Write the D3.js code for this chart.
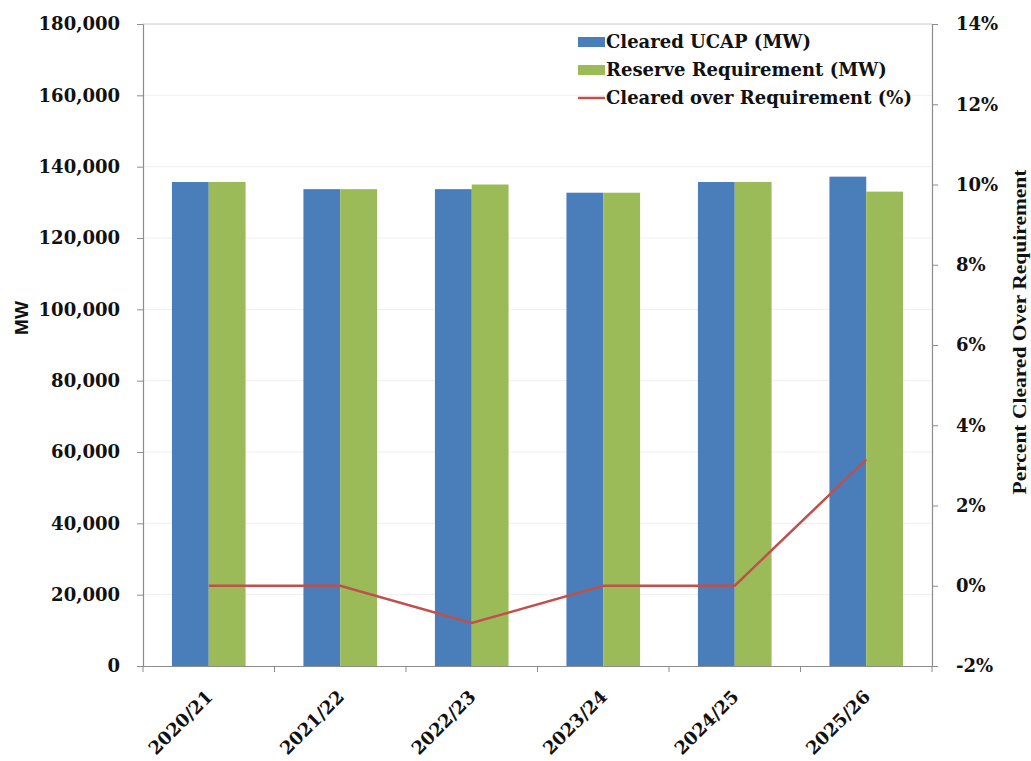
<!DOCTYPE html>
<html><head><meta charset="utf-8">
<script src="https://cdn.jsdelivr.net/npm/d3@7"></script>
<style>body{margin:0;background:#fff;} svg{display:block;}</style>
</head><body>
<script>
const categories = ["2020/21","2021/22","2022/23","2023/24","2024/25","2025/26"];
const clearedUCAP = [135700, 133700, 133700, 132700, 135700, 137200];
const reserveReq  = [135700, 133700, 135000, 132700, 135700, 133000];
const clearedOverPct = [0.0, 0.0, -0.93, 0.0, 0.0, 3.15];
const leftTicks = [0,20000,40000,60000,80000,100000,120000,140000,160000,180000];
const rightTicks = [-2,0,2,4,6,8,10,12,14];
const seriesNames = ["Cleared UCAP (MW)","Reserve Requirement (MW)","Cleared over Requirement (%)"];

const W=1031,H=761;
const m={left:143,right:99,top:24,bottom:95};
const svg=d3.select("body").append("svg").attr("width",W).attr("height",H);
const iw=W-m.left-m.right, ih=H-m.top-m.bottom;
const g=svg.append("g").attr("transform",`translate(${m.left},${m.top})`);

const x=d3.scaleBand().domain(categories).range([0,iw]).paddingInner(0.44).paddingOuter(0.22);
const y=d3.scaleLinear().domain([0,180000]).range([ih,0]);
const y2=d3.scaleLinear().domain([-2,14]).range([ih,0]);
const step=x.step();
const bw=x.bandwidth()/2;

const serif='"DejaVu Serif", serif';
const blue="#4a7ebb", green="#9bbb59", red="#c0504d", axisCol="#8c8c8c";

// gridlines
g.append("g").selectAll("line").data(leftTicks.slice(1)).join("line")
 .attr("x1",0).attr("x2",iw).attr("y1",d=>y(d)).attr("y2",d=>y(d))
 .attr("stroke","#efefef").attr("stroke-width",1);

// bars
const cg=g.append("g").selectAll("g").data(categories).join("g")
 .attr("transform",d=>`translate(${x(d)},0)`);
cg.append("rect").attr("x",0).attr("width",bw)
 .attr("y",(d,i)=>y(clearedUCAP[i])).attr("height",(d,i)=>ih-y(clearedUCAP[i])).attr("fill",blue);
cg.append("rect").attr("x",bw).attr("width",bw)
 .attr("y",(d,i)=>y(reserveReq[i])).attr("height",(d,i)=>ih-y(reserveReq[i])).attr("fill",green);

// line
const line=d3.line().x((d,i)=>x(categories[i])+x.bandwidth()/2).y(d=>y2(d));
g.append("path").datum(clearedOverPct).attr("d",line).attr("fill","none")
 .attr("stroke",red).attr("stroke-width",2.5);

// axes
const la=g.append("g").call(d3.axisLeft(y).tickValues(leftTicks).tickFormat(d3.format(",")).tickSize(6).tickPadding(17));
const ra=g.append("g").attr("transform",`translate(${iw},0)`).call(d3.axisRight(y2).tickValues(rightTicks).tickFormat(d=>d+"%").tickSize(6).tickPadding(18));
const xa=g.append("g").attr("transform",`translate(0,${ih})`).call(d3.axisBottom(x).tickSize(0).tickPadding(0));
[la,ra,xa].forEach(a=>{a.select(".domain").attr("stroke",axisCol).attr("stroke-width",1.2);
 a.selectAll(".tick line").attr("stroke",axisCol);
 a.selectAll("text").attr("font-family",serif).attr("font-weight","bold").attr("font-size",18).attr("fill","#111");});
// x ticks at category boundaries
const x0=x(categories[0]) - step*x.paddingOuter();
g.append("g").selectAll("line").data(d3.range(categories.length+1)).join("line")
 .attr("x1",d=>x0+d*step).attr("x2",d=>x0+d*step)
 .attr("y1",ih).attr("y2",ih+6).attr("stroke",axisCol);
xa.selectAll(".tick text").attr("text-anchor","end").attr("font-size",18)
 .attr("y",0).attr("dy",0).attr("transform","translate(5,32) rotate(-45)");
// top border
g.append("line").attr("x1",0).attr("x2",iw).attr("y1",0).attr("y2",0).attr("stroke","#d0d0d0");

// axis titles
svg.append("text").attr("transform",`translate(28,318) rotate(-90)`).attr("text-anchor","middle")
 .attr("font-family",'"Liberation Sans", Arial, sans-serif').attr("font-weight","bold").attr("font-size",19).attr("fill","#111").text("MW");
svg.append("text").attr("transform",`translate(1026,332) rotate(-90)`).attr("text-anchor","middle")
 .attr("font-family",'"Liberation Serif", serif').attr("font-weight","bold").attr("font-size",19).attr("fill","#111")
 .attr("textLength",325).attr("lengthAdjust","spacingAndGlyphs").text("Percent Cleared Over Requirement");

// legend
const lg=svg.append("g").attr("transform","translate(578,42)");
const colors=[blue,green,red];
seriesNames.forEach((n,i)=>{
  const r=lg.append("g").attr("transform",`translate(0,${i*28})`);
  if(i<2) r.append("rect").attr("x",0).attr("y",-5).attr("width",27).attr("height",10).attr("fill",colors[i]);
  else r.append("line").attr("x1",0).attr("x2",27).attr("y1",0).attr("y2",0).attr("stroke",red).attr("stroke-width",2.5);
  r.append("text").attr("x",28).attr("y",0).attr("dy","0.35em").attr("font-family",serif).attr("font-weight","bold")
   .attr("font-size",18).attr("fill","#111").text(n);
});
</script>
</body></html>
